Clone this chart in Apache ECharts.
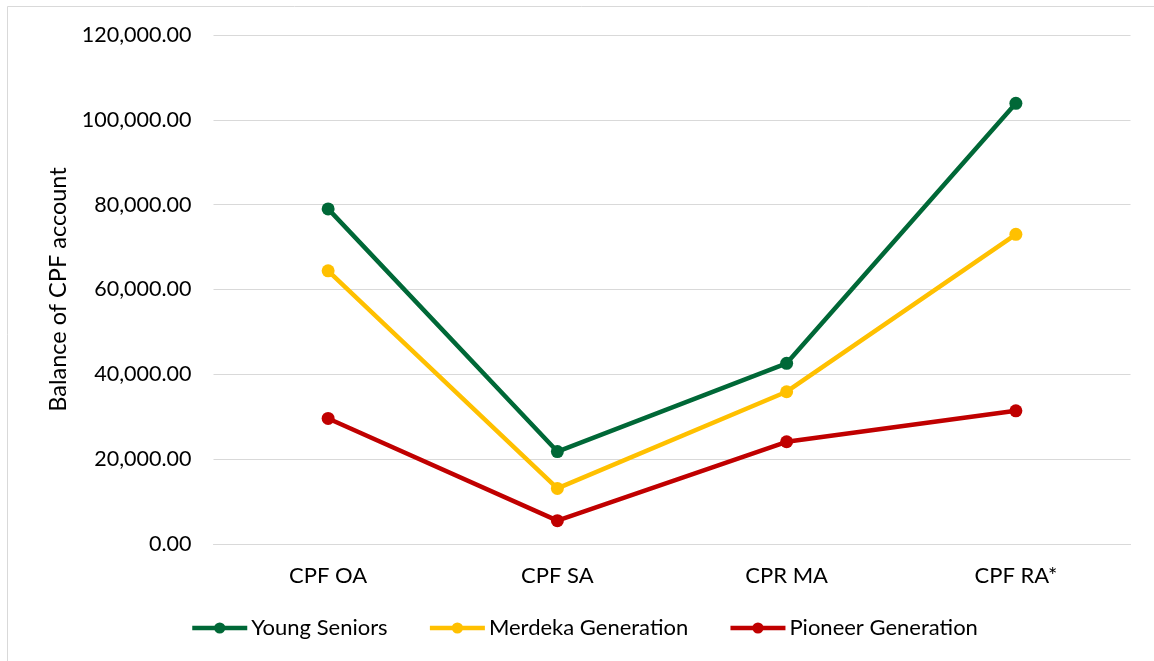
<!DOCTYPE html>
<html>
<head>
<meta charset="utf-8">
<script src="https://cdn.jsdelivr.net/npm/echarts@6/dist/echarts.min.js"></script>
<style>
html,body{margin:0;padding:0;background:#fff;}
#chart{width:1154px;height:661px;}
</style>
</head>
<body>
<div id="chart"></div>
<script>
const categories = ['CPF OA', 'CPF SA', 'CPR MA', 'CPF RA*'];
const youngSeniors = [79000, 21800, 42600, 103900];
const merdekaGeneration = [64400, 13100, 35900, 73000];
const pioneerGeneration = [29600, 5500, 24100, 31400];
const seriesNames = ['Young Seniors', 'Merdeka Generation', 'Pioneer Generation'];
const seriesColors = ['#006837', '#FFC000', '#C00000'];
const yAxisName = 'Balance of CPF account';

const FONT = 'Lato';
const chart = echarts.init(document.getElementById('chart'));
const allData = [youngSeniors, merdekaGeneration, pioneerGeneration];

chart.setOption({
  animation: false,
  backgroundColor: '#fff',
  textStyle: { fontFamily: FONT },
  graphic: [{
    type: 'rect',
    shape: { x: 7.5, y: 6.5, width: 1300, height: 800 },
    style: { fill: 'none', stroke: '#d9d9d9', lineWidth: 1 },
    silent: true
  }],
  grid: { left: 213.5, right: 23.5, top: 35, bottom: 117 },
  legend: {
    left: 185,
    top: 612,
    itemWidth: 55,
    itemHeight: 14,
    itemGap: 40,
    lineStyle: { width: 4.5 },
    textStyle: { fontFamily: FONT, fontSize: 22, color: '#000', padding: [0, 0, 0, -1] },
    data: seriesNames
  },
  xAxis: {
    type: 'category',
    data: categories,
    boundaryGap: true,
    axisLine: { show: true, lineStyle: { color: '#d9d9d9', width: 1 } },
    axisTick: { show: false },
    axisLabel: { color: '#000', fontSize: 22, fontFamily: FONT, margin: 21 }
  },
  yAxis: {
    type: 'value',
    min: 0,
    max: 120000,
    interval: 20000,
    name: yAxisName,
    nameLocation: 'middle',
    nameGap: 140,
    nameRotate: 90,
    nameTextStyle: { color: '#000', fontSize: 23.5, fontFamily: FONT },
    axisLine: { show: false },
    axisTick: { show: false },
    splitLine: { lineStyle: { color: '#d9d9d9', width: 1 } },
    axisLabel: {
      color: '#000', fontSize: 21.5, fontFamily: FONT, margin: 22,
      formatter: v => v.toLocaleString('en-US', { minimumFractionDigits: 2, maximumFractionDigits: 2 })
    }
  },
  series: seriesNames.map((name, i) => ({
    name: name,
    type: 'line',
    data: allData[i],
    symbol: 'circle',
    symbolSize: 13,
    lineStyle: { width: 4.5, color: seriesColors[i] },
    itemStyle: { color: seriesColors[i] },
    z: 10 - i
  }))
});
</script>
</body>
</html>
